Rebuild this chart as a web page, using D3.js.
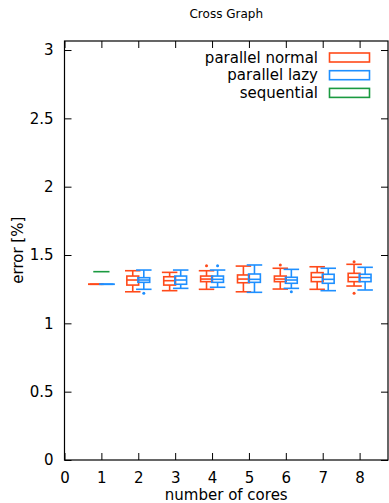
<!DOCTYPE html>
<html>
<head>
<meta charset="utf-8">
<script src="https://cdn.jsdelivr.net/npm/d3@7"></script>
<style>
  body { margin: 0; background: #fff; }
  text { font-family: "DejaVu Sans", sans-serif; font-size: 15px; fill: #000; }
</style>
</head>
<body>
<script>
// chart data
var cores = [1, 2, 3, 4, 5, 6, 7, 8];

var normalMin = [1.286, 1.231, 1.239, 1.249, 1.231, 1.251, 1.249, 1.273];
var normalQ1  = [1.286, 1.280, 1.280, 1.305, 1.297, 1.305, 1.305, 1.305];
var normalMed = [1.286, 1.317, 1.312, 1.324, 1.324, 1.324, 1.337, 1.337];
var normalQ3  = [1.286, 1.346, 1.341, 1.346, 1.354, 1.346, 1.371, 1.366];
var normalMax = [1.286, 1.385, 1.373, 1.385, 1.419, 1.403, 1.414, 1.432];

var lazyMin = [1.286, 1.249, 1.256, 1.264, 1.227, 1.256, 1.239, 1.244];
var lazyQ1  = [1.286, 1.300, 1.286, 1.300, 1.300, 1.293, 1.293, 1.305];
var lazyMed = [1.286, 1.317, 1.317, 1.322, 1.322, 1.317, 1.322, 1.334];
var lazyQ3  = [1.286, 1.334, 1.346, 1.346, 1.361, 1.337, 1.359, 1.359];
var lazyMax = [1.286, 1.390, 1.390, 1.390, 1.427, 1.395, 1.403, 1.410];

var normalOutliers = [[4, 1.422], [6, 1.427], [8, 1.451], [8, 1.220]];
var lazyOutliers = [[2, 1.220], [4, 1.422], [6, 1.231]];

var sequentialCore = [1];
var sequentialValue = [1.378];

var xTicks = [0, 1, 2, 3, 4, 5, 6, 7, 8];
var yTicks = [0, 0.5, 1, 1.5, 2, 2.5, 3];

var colNormal = "#ff4a1a";
var colLazy = "#1e8fff";
var colSeq = "#1a9a40";

var W = 389, H = 503;
var margin = {top: 41, right: 1, bottom: 43, left: 64.5};
var width = W - margin.left - margin.right;
var height = H - margin.top - margin.bottom;

var svg = d3.select("body").append("svg")
    .attr("width", W)
    .attr("height", H);

var g = svg.append("g")
    .attr("transform", "translate(" + margin.left + "," + margin.top + ")");

var x = d3.scaleLinear().domain([0, 8.77]).range([0, width]);
var y = d3.scaleLinear().domain([0, 3.066]).range([height, 0]);

// title
svg.append("text")
    .attr("x", margin.left + width / 2)
    .attr("y", 18)
    .attr("text-anchor", "middle")
    .style("font-size", "12px")
    .text("Cross Graph");

// axes, ticks pointing inward, mirrored
var tickLen = 7;
g.append("g")
    .attr("transform", "translate(0," + height + ")")
    .call(d3.axisBottom(x).tickValues(xTicks).tickSize(-tickLen).tickPadding(tickLen + 5).tickFormat(d3.format("d")))
    .call(function(a) { a.select(".domain").remove(); });
g.append("g")
    .call(d3.axisTop(x).tickValues(xTicks).tickSize(-tickLen).tickFormat(""))
    .call(function(a) { a.select(".domain").remove(); });
g.append("g")
    .call(d3.axisLeft(y).tickValues(yTicks).tickSize(-tickLen).tickPadding(tickLen + 4).tickFormat(function(d) { return d; }))
    .call(function(a) { a.select(".domain").remove(); });
g.append("g")
    .attr("transform", "translate(" + width + ",0)")
    .call(d3.axisRight(y).tickValues(yTicks).tickSize(-tickLen).tickFormat(""))
    .call(function(a) { a.select(".domain").remove(); });

g.selectAll(".tick text").style("font-family", "DejaVu Sans, sans-serif").style("font-size", "15px").attr("fill", "#000");
g.selectAll(".tick line").attr("stroke", "#000");

g.append("rect")
    .attr("width", width)
    .attr("height", height)
    .attr("fill", "none")
    .attr("stroke", "#000")
    .attr("stroke-width", 1.2);

// axis labels
svg.append("text")
    .attr("x", margin.left + width / 2)
    .attr("y", 500)
    .attr("text-anchor", "middle")
    .text("number of cores");

svg.append("text")
    .attr("transform", "translate(23," + (margin.top + y(1.535)) + ") rotate(-90)")
    .attr("text-anchor", "middle")
    .text("error [%]");

// box plots
var boxW = 0.32, capW = 0.42;

function drawBoxes(offset, mins, q1s, meds, q3s, maxs, color) {
    var data = cores.map(function(c, i) {
        return {c: c + offset, lo: mins[i], q1: q1s[i], md: meds[i], q3: q3s[i], hi: maxs[i]};
    });
    var grp = g.append("g")
        .attr("stroke", color)
        .attr("stroke-width", 1.6)
        .attr("fill", "none");
    var b = grp.selectAll("g").data(data).enter().append("g");
    b.append("line")
        .attr("x1", function(d) { return x(d.c); }).attr("x2", function(d) { return x(d.c); })
        .attr("y1", function(d) { return y(d.hi); }).attr("y2", function(d) { return y(d.q3); });
    b.append("line")
        .attr("x1", function(d) { return x(d.c); }).attr("x2", function(d) { return x(d.c); })
        .attr("y1", function(d) { return y(d.q1); }).attr("y2", function(d) { return y(d.lo); });
    b.append("line")
        .attr("x1", function(d) { return x(d.c - capW / 2); }).attr("x2", function(d) { return x(d.c + capW / 2); })
        .attr("y1", function(d) { return y(d.hi); }).attr("y2", function(d) { return y(d.hi); });
    b.append("line")
        .attr("x1", function(d) { return x(d.c - capW / 2); }).attr("x2", function(d) { return x(d.c + capW / 2); })
        .attr("y1", function(d) { return y(d.lo); }).attr("y2", function(d) { return y(d.lo); });
    b.append("rect")
        .attr("x", function(d) { return x(d.c - boxW / 2); })
        .attr("width", x(boxW) - x(0))
        .attr("y", function(d) { return y(d.q3); })
        .attr("height", function(d) { return y(d.q1) - y(d.q3); });
    b.append("line")
        .attr("x1", function(d) { return x(d.c - boxW / 2); }).attr("x2", function(d) { return x(d.c + boxW / 2); })
        .attr("y1", function(d) { return y(d.md); }).attr("y2", function(d) { return y(d.md); });
}

function drawOutliers(offset, pts, color) {
    g.append("g").selectAll("circle").data(pts).enter().append("circle")
        .attr("cx", function(d) { return x(d[0] + offset); })
        .attr("cy", function(d) { return y(d[1]); })
        .attr("r", 1.5)
        .attr("fill", color);
}

drawBoxes(-0.15, normalMin, normalQ1, normalMed, normalQ3, normalMax, colNormal);
drawOutliers(-0.15, normalOutliers, colNormal);
drawBoxes(0.15, lazyMin, lazyQ1, lazyMed, lazyQ3, lazyMax, colLazy);
drawOutliers(0.15, lazyOutliers, colLazy);

// sequential
g.append("g").selectAll("line").data(sequentialCore).enter().append("line")
    .attr("x1", function(d) { return x(d - 0.22); })
    .attr("x2", function(d) { return x(d + 0.22); })
    .attr("y1", function(d, i) { return y(sequentialValue[i]); })
    .attr("y2", function(d, i) { return y(sequentialValue[i]); })
    .attr("stroke", colSeq)
    .attr("stroke-width", 1.6);

// legend
var legendNames = ["parallel normal", "parallel lazy", "sequential"];
var legendColors = [colNormal, colLazy, colSeq];
var lg = svg.append("g");
var rows = lg.selectAll("g").data(legendNames).enter().append("g")
    .attr("transform", function(d, i) { return "translate(0," + (57.5 + i * 17.7) + ")"; });
rows.append("text")
    .attr("x", 318)
    .attr("dy", "0.35em")
    .attr("text-anchor", "end")
    .text(function(d) { return d; });
rows.append("rect")
    .attr("x", 329.5)
    .attr("y", -4.5)
    .attr("width", 40)
    .attr("height", 9)
    .attr("fill", "none")
    .attr("stroke", function(d, i) { return legendColors[i]; })
    .attr("stroke-width", 1.6);
</script>
</body>
</html>
